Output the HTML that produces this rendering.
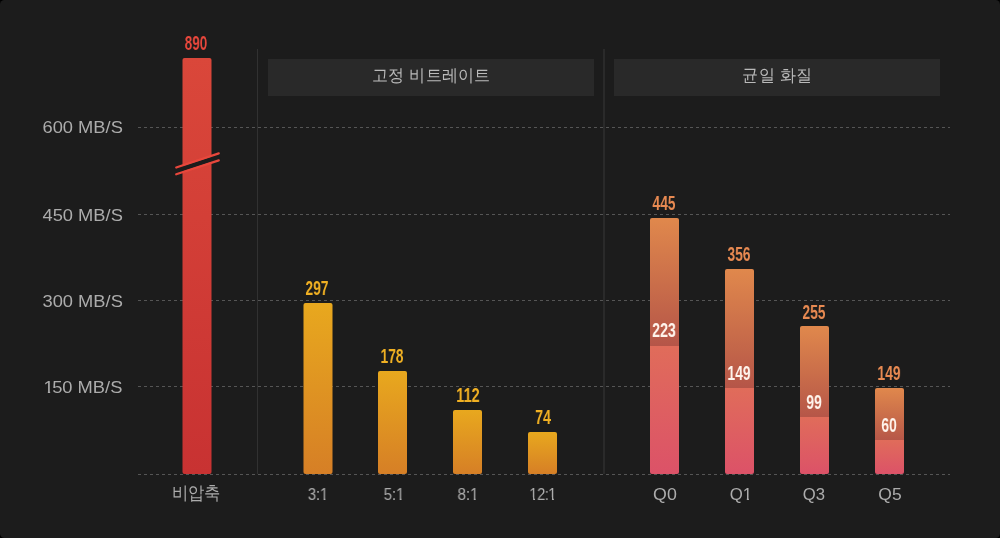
<!DOCTYPE html>
<html><head><meta charset="utf-8"><style>
html,body{margin:0;padding:0;background:#000;}
body{width:1000px;height:538px;overflow:hidden;position:relative;font-family:"Liberation Sans",sans-serif;-webkit-font-smoothing:antialiased;}
.yl,.xl,.hd,.lbl{will-change:transform;}
.card{position:absolute;left:0;top:0;width:1000px;height:538px;background:#1c1c1c;border-radius:4.5px;overflow:hidden;}
svg{position:absolute;left:0;top:0;}
.vs{position:absolute;top:49px;height:425px;background:#313131;}
.hd{position:absolute;top:59px;height:37px;background:#292929;color:#bababa;font-size:16px;letter-spacing:0.3px;text-indent:0.3px;line-height:33px;text-align:center;}
.yl{position:absolute;right:877.4px;font-size:17.3px;line-height:24px;color:#acacac;white-space:nowrap;transform:scaleX(1.06);transform-origin:100% 50%;}
.xl{position:absolute;top:484px;width:100px;margin-left:-50px;text-align:center;font-size:16.2px;line-height:20px;color:#acacac;}
.o{display:inline-block;line-height:1;clip-path:polygon(0 0,100% 0,100% 0.7em,0.36em 0.7em,0.36em 100%,0.235em 100%,0.235em 0.7em,0 0.7em);}
.ht{display:inline-block;transform:scaleY(1.06);}
.kx{display:inline-block;font-size:17px;transform:translate(-0.6px,-1.5px) scale(0.945,1.04);}
.lbl{position:absolute;width:60px;margin-left:-30px;text-align:center;font-size:20px;line-height:1;font-weight:bold;transform:translateY(-100%) scaleX(0.69);transform-origin:50% 100%;}
</style></head><body><div class="card">
<svg width="1000" height="538"><defs>
<linearGradient id="gr" x1="0" y1="0" x2="0" y2="1"><stop offset="0" stop-color="#da473a"/><stop offset="1" stop-color="#c83232"/></linearGradient>
<linearGradient id="gy" x1="0" y1="0" x2="0" y2="1"><stop offset="0" stop-color="#e8a81e"/><stop offset="1" stop-color="#d67f26"/></linearGradient>
<linearGradient id="gq" x1="0" y1="0" x2="0" y2="1"><stop offset="0" stop-color="#e0884c"/><stop offset="1" stop-color="#b45448"/></linearGradient>
<linearGradient id="gi" x1="0" y1="0" x2="0" y2="1"><stop offset="0" stop-color="#e06c5a"/><stop offset="1" stop-color="#dc5268"/></linearGradient>
</defs>
<g stroke="#555555" stroke-width="1" stroke-dasharray="3 3">
<line x1="138" x2="950" y1="127.5" y2="127.5"/>
<line x1="138" x2="950" y1="214.5" y2="214.5"/>
<line x1="138" x2="950" y1="300.5" y2="300.5"/>
<line x1="138" x2="950" y1="386.5" y2="386.5"/>
<line x1="138" x2="950" y1="474.5" y2="474.5"/>
</g>
<rect x="182.5" y="58.00" width="29.0" height="416.00" rx="2" fill="url(#gr)"/>
<rect x="303.5" y="303.00" width="29.0" height="171.00" rx="2" fill="url(#gy)"/>
<rect x="378.0" y="371.00" width="29.0" height="103.00" rx="2" fill="url(#gy)"/>
<rect x="453.0" y="410.00" width="29.0" height="64.00" rx="2" fill="url(#gy)"/>
<rect x="528.0" y="432.00" width="29.0" height="42.00" rx="2" fill="url(#gy)"/>
<rect x="650.0" y="218.00" width="29.0" height="131.00" rx="2" fill="url(#gq)"/>
<path d="M650.0 346.00H679.0V472.0a2 2 0 0 1 -2 2H652.0a2 2 0 0 1 -2 -2Z" fill="url(#gi)"/>
<rect x="725.0" y="269.00" width="29.0" height="122.00" rx="2" fill="url(#gq)"/>
<path d="M725.0 388.00H754.0V472.0a2 2 0 0 1 -2 2H727.0a2 2 0 0 1 -2 -2Z" fill="url(#gi)"/>
<rect x="800.0" y="326.00" width="29.0" height="94.00" rx="2" fill="url(#gq)"/>
<path d="M800.0 417.00H829.0V472.0a2 2 0 0 1 -2 2H802.0a2 2 0 0 1 -2 -2Z" fill="url(#gi)"/>
<rect x="875.0" y="388.00" width="29.0" height="55.00" rx="2" fill="url(#gq)"/>
<path d="M875.0 440.00H904.0V472.0a2 2 0 0 1 -2 2H877.0a2 2 0 0 1 -2 -2Z" fill="url(#gi)"/>
<polygon points="175.2,171.2 219.8,156.6 219.8,156.6 175.2,171.2" fill="#1c1c1c" stroke="#1c1c1c" stroke-width="5"/>
<g stroke="#e8473c" stroke-width="2.2" stroke-linecap="round">
<line x1="176.2" y1="167.5" x2="218.8" y2="153.4"/>
<line x1="176.2" y1="174.3" x2="218.8" y2="160.4"/>
</g></svg>
<div class="vs" style="left:257px;width:1px"></div>
<div class="vs" style="left:603px;width:2px;background:#2a2a2a"></div>
<div class="hd" style="left:268px;width:326px"><span class="ht">고정 비트레이트</span></div>
<div class="hd" style="left:614px;width:326px"><span class="ht">균일 화질</span></div>
<div class="yl" style="top:115.0px">600 MB/S</div>
<div class="yl" style="top:202.5px">450 MB/S</div>
<div class="yl" style="top:288.8px">300 MB/S</div>
<div class="yl" style="top:375.0px"><span class="o" style="margin-right:-1.5px">1</span>50 MB/S</div>
<div class="lbl" style="left:196.20px;top:52.70px;color:#e8473c;transform:translateY(-100%) scaleX(0.67)">890</div>
<div class="lbl" style="left:317.20px;top:297.70px;color:#f0b023;transform:translateY(-100%) scaleX(0.69)">297</div>
<div class="lbl" style="left:391.50px;top:365.70px;color:#f0b023;transform:translateY(-100%) scaleX(0.69)">178</div>
<div class="lbl" style="left:467.80px;top:404.70px;color:#f0b023;transform:translateY(-100%) scaleX(0.72)">112</div>
<div class="lbl" style="left:543.10px;top:426.70px;color:#f0b023;transform:translateY(-100%) scaleX(0.72)">74</div>
<div class="lbl" style="left:663.70px;top:340.20px;color:#fff4ec;transform:translateY(-100%) scaleX(0.71)">223</div>
<div class="lbl" style="left:663.70px;top:212.70px;color:#e88a52;transform:translateY(-100%) scaleX(0.69)">445</div>
<div class="lbl" style="left:739.00px;top:382.70px;color:#fff4ec;transform:translateY(-100%) scaleX(0.7)">149</div>
<div class="lbl" style="left:738.70px;top:263.70px;color:#e88a52;transform:translateY(-100%) scaleX(0.69)">356</div>
<div class="lbl" style="left:814.00px;top:411.70px;color:#fff4ec;transform:translateY(-100%) scaleX(0.7)">99</div>
<div class="lbl" style="left:813.70px;top:321.70px;color:#e88a52;transform:translateY(-100%) scaleX(0.69)">255</div>
<div class="lbl" style="left:889.00px;top:434.70px;color:#fff4ec;transform:translateY(-100%) scaleX(0.7)">60</div>
<div class="lbl" style="left:889.20px;top:382.70px;color:#e88a52;transform:translateY(-100%) scaleX(0.7)">149</div>
<div class="xl" style="left:195.9px;letter-spacing:0px;text-indent:0px;transform:scaleX(1)"><span class="kx">비압축</span></div>
<div class="xl" style="left:317.5px;letter-spacing:-0.2px;text-indent:-0.2px;transform:scaleX(0.93)">3:<span class="o">1</span></div>
<div class="xl" style="left:393.6px;letter-spacing:-0.2px;text-indent:-0.2px;transform:scaleX(0.94)">5:<span class="o">1</span></div>
<div class="xl" style="left:467.7px;letter-spacing:-0.2px;text-indent:-0.2px;transform:scaleX(0.96)">8:<span class="o">1</span></div>
<div class="xl" style="left:543.3px;letter-spacing:-0.4px;text-indent:-0.4px;transform:scaleX(0.9)"><span class="o">1</span>2:<span class="o">1</span></div>
<div class="xl" style="left:664.5px;letter-spacing:0px;text-indent:0px;transform:scaleX(1.1)">Q0</div>
<div class="xl" style="left:740.8px;letter-spacing:0px;text-indent:0px;transform:scaleX(1.04)">Q<span class="o">1</span></div>
<div class="xl" style="left:814.4px;letter-spacing:0px;text-indent:0px;transform:scaleX(1.03)">Q3</div>
<div class="xl" style="left:890.2px;letter-spacing:0px;text-indent:0px;transform:scaleX(1.08)">Q5</div>
</div></body></html>
